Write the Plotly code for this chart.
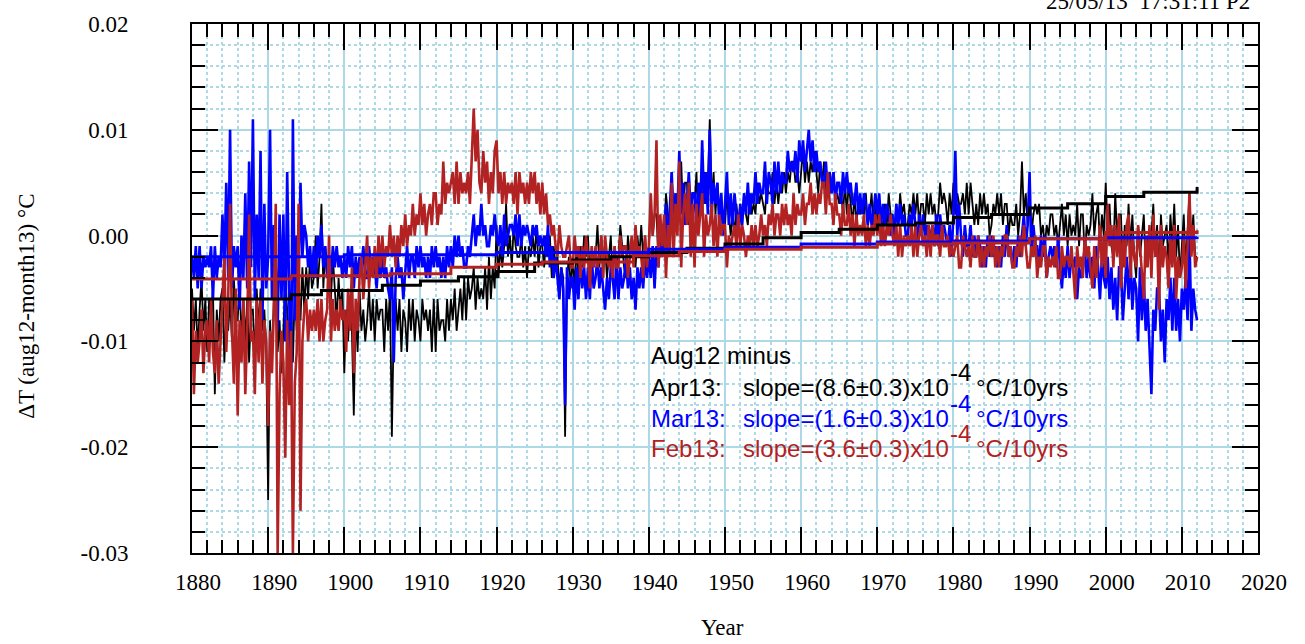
import plotly.graph_objects as go

# ---------------- data (values in units of 1e-3 degC, quarter-year steps from 1880.0) ----------------
START_YEAR = 1880.0
STEP = 0.25

apr13_milli = [
    -5,-9,-6,-11, -7,-4,-9,-6, -11,-6,-8,-5, -15,-7,-10,-6, -5,-12,-7,-9,
    -6,-10,-4,-8, -8,-4,-10,-6, -10,-6,-12,-7, -7,-12,-5,-9, -5,-9,-7,-11,
    -25,-8,-12,-6, -6,-11,-8,-13, -9,-4,-7,-10, -7,-12,-5,-9, -5,-8,-3,-7,
    -3,-6,-2,-5, -4,0,-5,-2, 3,-5,-1,-4, -3,-6,-2,-5, -8,-4,-7,-5,
    -13,-7,-10,-6, -9,-17,-7,-11, -5,-9,-7,-10, -8,-5,-9,-6, -10,-6,-8,-7,
    -7,-11,-6,-9, -5,-19,-8,-6, -9,-6,-11,-7, -8,-11,-6,-9, -6,-10,-7,-8,
    -10,-6,-8,-7, -9,-7,-11,-6, -11,-6,-9,-8, -8,-10,-6,-9, -6,-8,-5,-9,
    -7,-5,-8,-4, -8,-4,-6,-5, -3,-7,-4,-6, -5,-6,-3,-7, -2,-6,-3,-5,
    1,-4,-1,-3, -1,3,-2,0, -3,1,-1,-2, -2,0,-3,-1, -4,-1,-2,0,
    -2,1,-3,-1, -1,-3,0,-2, 0,-4,-1,-3, -2,-5,-3,-4, -19,-4,-2,-5,
    -2,-5,-1,-4, -1,-3,0,-2, 0,-4,-1,-3, -2,1,-3,0, -3,-1,-4,-2,
    0,-4,-1,-3, -2,1,-1,-3, -4,0,-2,-1, -1,-3,0,-2, 1,-2,0,-3,
    -1,3,0,2, 2,-2,1,-1, 0,4,2,1, 6,1,4,2, 3,7,2,5,
    5,1,4,2, 3,6,1,4, 2,6,3,5, 11,3,6,2, 5,2,4,1,
    1,4,2,0, 2,0,3,1, 3,1,4,2, 1,4,2,3, 2,5,3,4,
    3,2,5,4, 4,6,3,5, 3,5,4,6, 4,6,5,7, 7,5,6,4,
    6,8,5,7, 5,7,6,8, 6,4,7,5, 7,3,5,4, 5,6,3,4,
    3,4,2,5, 2,5,3,1, 4,1,3,2, 3,2,4,1, 2,4,1,3,
    1,3,2,0, 3,1,4,2, 2,0,3,1, 4,2,3,1, 1,3,2,4,
    2,4,1,3, 3,1,4,2, 4,2,3,1, 2,5,3,4, 3,1,4,2,
    5,2,4,3, 3,4,2,5, 2,5,3,1, 3,1,4,2, 4,2,3,0,
    1,3,2,4, 2,4,1,3, 3,0,2,1, 1,3,0,2, 7,2,4,1,
    4,0,2,3, 2,3,0,1, -1,1,0,2, 2,0,1,-1, 1,3,0,2,
    -1,2,0,1, 0,3,-1,2, 2,-2,1,0, 1,4,0,2, 3,-1,2,0,
    5,0,3,-1, -2,4,0,2, 2,-3,1,-1, 3,-1,2,-2, -4,1,-2,0,
    2,-3,0,-1, 0,3,-2,1, -4,2,-1,0, 1,-3,2,-1, 3,-2,1,-4,
    -1,2,-3,0, 4,-1,2,-2, -2,
]

mar13_milli = [
    -2,-4,-1,-5, -1,-5,-2,-3, -2,-3,-1,-6, -1,-4,-2,-3, 2,-3,5,-4,
    10,-5,-1,-3, -1,-7,0,-4, 4,-5,7,-3, 11,-6,2,-4, 8,-8,3,-5,
    -2,10,-6,1, -3,-9,2,-6, 2,-10,6,-4, -16,11,-8,0, -4,5,-2,1,
    0,-3,-1,-4, -1,-4,0,-2, 1,-3,-1,-4, -2,-4,-1,-3, -1,-3,-2,-4,
    -2,-4,-1,-3, -1,-5,-2,-4, -2,-3,-1,-4, -4,-1,-3,-2, -3,-5,-2,-4,
    -2,-4,-3,-5, -6,-3,-12,-4, -2,-4,-3,-6, -3,-1,-4,-2, -2,-4,-1,-3,
    -1,-3,-2,-4, -2,-4,-1,-3, -1,-3,-2,-4, -2,-4,-1,-3, -1,-3,0,-2,
    0,-2,-1,-3, -3,-1,-2,0, 2,-1,1,0, 3,0,1,-1, -1,1,0,2,
    0,-1,1,-2, 2,-1,0,1, 1,0,2,-1, 2,-1,1,0, 1,0,-1,1,
    0,1,-1,0, -1,0,-2,1, -3,-1,-4,-2, -4,-6,-3,-5, -16,-3,-6,-4,
    -4,-7,-3,-6, -2,-5,-3,-6, -3,-6,-2,-5, -4,-2,-5,-3, -5,-7,-4,-6,
    -3,-4,-6,-2, -6,-3,-5,-4, -2,-5,-3,-6, -4,-7,-3,-5, -3,-5,-2,-4,
    -2,-4,-1,-5, -1,-3,0,-2, 0,3,-1,2, 6,1,4,2, 8,2,5,1,
    3,6,2,4, 4,1,5,2, 9,3,6,2, 10,2,5,3, 5,1,4,0,
    3,6,1,4, 1,4,2,0, 3,1,4,2, 5,2,4,3, 6,3,5,4,
    4,7,3,6, 5,3,7,4, 7,4,6,5, 5,8,6,7, 6,8,5,9,
    7,9,6,8, 10,7,9,6, 8,6,7,5, 5,7,4,6, 4,6,3,5,
    5,3,6,4, 6,4,5,3, 3,5,2,4, 2,4,3,1, 3,1,2,4,
    2,4,1,3, 1,3,2,0, 2,0,3,1, 3,1,2,0, 0,2,1,3,
    1,-1,2,0, 2,0,1,-1, 0,1,-1,2, -1,2,0,1, 0,-1,1,-2,
    2,8,0,3, 0,-2,1,-1, -1,1,-2,0, -2,0,-1,-3, -1,-3,0,-2,
    0,-2,-1,-3, -1,-3,0,-2, 1,-2,-1,-3, -1,-3,0,-2, 0,2,-1,1,
    6,-2,1,-1, -1,-3,0,-2, 0,-4,-2,-1, -2,-1,-3,0, -3,-5,-2,-4,
    -1,-4,-2,-3, -2,-6,-3,-4, -3,-1,-4,-2, -4,-2,-5,-1, -3,-6,-2,-4,
    -5,-2,-6,-3, -7,-4,-8,-3, -3,-8,-5,-2, -6,-2,-7,-4, -5,-10,-3,-8,
    -4,-9,-6,-11, -15,-7,-9,-5, -5,-10,-7,-12, -6,-8,-4,-9, -4,-9,-6,-10,
    -5,-7,-4,-8, 0,-9,-5,-7, -8,
]

feb13_milli = [
    -6,-15,-9,-12, -10,-7,-13,-9, -8,-12,-6,-11, -13,-8,-14,-10, -7,-2,-11,-6,
    3,-9,-14,-5, -17,-8,-12,-6, -15,-9,2,-10, -9,-15,-6,-12, -6,-14,-8,-10,
    -18,-9,-13,-7, 3,-30,-15,-9, -12,-21,-8,-16, -9,-30,-14,-11, 3,-26,-10,-7,
    -6,-10,-7,-9, -7,-9,-6,-10, -6,-10,-8,-7, 0,-10,-6,-9, -7,-9,-6,-8,
    -7,-11,-5,-9, -3,-13,-6,-9, -4,-2,-6,-3, 0,-5,-2,-4, -1,-4,0,-3,
    0,-3,-1,-2, 1,-2,0,-3, 0,-2,1,-1, 2,-1,1,0, 3,0,2,1,
    4,1,3,0, 2,3,1,4, 4,1,3,2, 7,3,5,4, 5,6,3,7,
    3,6,4,5, 4,6,3,7, 12,7,10,5, 4,8,5,7, 3,6,4,8,
    9,4,6,3, 6,3,5,4, 5,3,6,2, 6,4,5,3, 5,3,6,4,
    6,3,5,2, 5,2,4,1, 2,0,1,-1, -2,1,-1,-2, -2,-1,0,-3,
    -3,0,-2,-1, -4,-1,-3,0, -2,-5,-1,-3, -1,-3,-2,0, -4,0,-2,-3,
    -2,-4,-1,-3, -3,0,-2,-1, -1,-4,-2,0, -3,1,-2,-1, -2,-4,0,-3,
    -1,4,0,2, 9,-3,2,-1, 2,-4,1,-2, 5,-2,3,0, 7,-3,2,4,
    1,5,-2,3, -3,3,0,2, 4,-2,2,0, 1,3,-1,2, -2,2,0,1,
    1,-3,0,-1, 0,1,-1,2, -1,1,0,-2, 0,-1,1,-1, 1,-1,0,2,
    0,1,-1,2, 1,3,0,2, 2,0,3,1, 3,1,2,0, 4,1,3,2,
    2,4,1,3, 3,5,2,4, 2,4,3,5, 5,2,6,3, 3,1,4,2,
    2,0,3,1, 1,3,0,2, -1,2,0,1, 0,2,-1,1, -1,1,0,2,
    0,2,-1,1, -1,1,0,2, 0,-1,1,-2, 1,-2,0,-1, 0,-1,1,-2,
    1,-2,0,1, -1,0,-2,1, -2,1,-1,0, 0,-2,1,-1, -1,0,-2,-1,
    -2,-1,0,-3, -3,0,-1,-2, -1,-3,0,-2, -2,0,-3,-1, -3,-1,-2,0,
    -2,0,-3,-1, -3,-1,-2,0, 0,-2,-1,-3, -3,-1,-2,0, -2,1,-1,-3,
    -3,-1,-2,0, -4,-2,-3,-1, -1,-4,-2,-3, -2,-3,-1,-4, -4,-1,-3,-2,
    -2,-3,-1,-4, -6,-1,-3,-2, -4,0,-2,-1, -3,-5,-1,-4, -2,1,-3,0,
    -4,3,-1,1, -3,1,-2,2, -5,0,-3,1, 2,-4,0,-2, -3,1,-1,-4,
    -6,0,-3,1, -4,2,-2,0, -7,1,-3,-1, -2,-5,0,-3, 1,-6,-2,-4,
    -3,0,-5,-1, 4,-2,1,-3, -2,
]

# running-slope (trend) lines, units of 1e-3 degC
apr13_trend_years = [1880, 1893, 1897, 1905, 1910, 1915, 1920, 1925, 1930, 1935, 1940, 1945,
                     1950, 1955, 1960, 1965, 1970, 1975, 1980, 1985, 1990, 1995, 2000, 2005, 2012]
apr13_trend_milli = [-6.0, -5.6, -5.2, -4.7, -4.3, -3.9, -3.4, -2.6, -2.3, -2.0, -1.6, -1.2,
                     -0.8, -0.2, 0.3, 0.6, 1.0, 1.2, 1.7, 2.0, 2.6, 3.0, 3.7, 4.1, 4.6]
mar13_trend_years = [1880, 1900, 1920, 1930, 1940, 1950, 1960, 1970, 1980, 1990, 2000, 2012]
mar13_trend_milli = [-2.0, -1.8, -1.6, -1.6, -1.3, -1.1, -0.8, -0.6, -0.5, -0.3, -0.2, -0.1]
feb13_trend_years = [1880, 1893, 1906, 1914, 1920, 1926, 1938, 1944, 1950, 1960, 1970, 1980,
                     1990, 2000, 2012]
feb13_trend_milli = [-4.1, -3.8, -3.6, -3.0, -2.7, -2.5, -1.9, -1.5, -1.3, -1.1, -0.8, -0.7,
                     -0.3, 0.3, 0.5]

y_tickvals = [-0.03, -0.02, -0.01, 0.00, 0.01, 0.02]
y_ticktext = ["-0.03", "-0.02", "-0.01", "0.00", "0.01", "0.02"]
x_tickvals = list(range(1880, 2021, 10))

legend_rows = [
    ("Apr13:", "slope=(8.6\u00b10.3)x10", "black"),
    ("Mar13:", "slope=(1.6\u00b10.3)x10", "#0000ff"),
    ("Feb13:", "slope=(3.6\u00b10.3)x10", "#b22222"),
]

BLACK = "black"
BLUE = "#0000ff"
BROWN = "#b22222"
GRID = "#add8e6"

# ---------------- figure ----------------
W, H = 1305, 644
L, R, T, B = 192, 47, 20, 91
PW, PH = W - L - R, H - T - B


def step_x(vals):
    return [START_YEAR + STEP * i for i in range(len(vals))]


fig = go.Figure()
for vals, color, width in [(apr13_milli, BLACK, 1.8), (mar13_milli, BLUE, 2.6), (feb13_milli, BROWN, 2.6)]:
    fig.add_trace(go.Scatter(x=step_x(vals), y=[v * 1e-3 for v in vals], mode="lines",
                             line=dict(color=color, width=width), showlegend=False, hoverinfo="skip"))

for yrs, vals, color in [(apr13_trend_years, apr13_trend_milli, BLACK),
                         (mar13_trend_years, mar13_trend_milli, BLUE),
                         (feb13_trend_years, feb13_trend_milli, BROWN)]:
    fig.add_trace(go.Scatter(x=yrs, y=[v * 1e-3 for v in vals], mode="lines",
                             line=dict(color=color, width=3, shape="hv"), showlegend=False,
                             hoverinfo="skip"))

serif = "Liberation Serif, Times New Roman, serif"
sans = "Liberation Sans, Arial, sans-serif"

fig.update_xaxes(range=[1880, 2020], tickvals=x_tickvals, ticks="inside", ticklen=26, tickwidth=2,
                 tickcolor="black", showline=True, linecolor="black", linewidth=2, mirror="allticks",
                 showgrid=True, gridcolor=GRID, gridwidth=1.5, zeroline=False,
                 minor=dict(dtick=2, ticks="inside", ticklen=13, tickwidth=2, tickcolor="black",
                            showgrid=True, gridcolor=GRID, griddash="dot", gridwidth=1.5),
                 tickfont=dict(family=serif, size=23, color="black"),
                 ticklabelstandoff=7, ticklabelshift=6)
fig.update_yaxes(range=[-0.03, 0.02], tickvals=y_tickvals, ticktext=y_ticktext, ticks="inside",
                 ticklen=26, tickwidth=2, tickcolor="black", showline=True, linecolor="black",
                 linewidth=2, mirror="allticks", showgrid=True, gridcolor=GRID, gridwidth=1.5,
                 zeroline=False,
                 minor=dict(dtick=0.002, ticks="inside", ticklen=13, tickwidth=2, tickcolor="black",
                            showgrid=True, gridcolor=GRID, griddash="dot", gridwidth=1.5),
                 tickfont=dict(family=serif, size=23, color="black"), ticklabelstandoff=57)


def px_x(x):
    return (x - L) / PW


def px_y(y):
    return (T + PH - y) / PH


def data_x(xp):
    return 1880 + (xp - L) / PW * 140


def data_y(yp):
    return 0.02 - (yp - T) / PH * 0.05


annotations = [
    dict(text="Year", x=px_x(722), y=px_y(628), xref="paper", yref="paper", showarrow=False,
         font=dict(family=serif, size=23, color="black"), xanchor="center", yanchor="middle"),
    dict(text="\u0394T (aug12-month13) \u00b0C", x=px_x(27), y=px_y(305), xref="paper", yref="paper",
         showarrow=False, textangle=-90, font=dict(family=serif, size=23, color="black"),
         xanchor="center", yanchor="middle"),
    dict(text="25/05/13  17:31:11 P2", x=px_x(1252), y=px_y(-3), xref="paper", yref="paper",
         showarrow=False, font=dict(family=serif, size=23, color="black"), xanchor="right",
         yanchor="middle"),
    dict(text="Aug12 minus", x=data_x(649), y=data_y(354), xref="x", yref="y", showarrow=False,
         font=dict(family=sans, size=24, color="black"), xanchor="left", yanchor="middle"),
]
row_y = [386, 417, 448]
for (lab, slope, color), yp in zip(legend_rows, row_y):
    f = dict(family=sans, size=24, color=color)
    annotations += [
        dict(text=lab, x=data_x(649), y=data_y(yp), xref="x", yref="y", showarrow=False, font=f,
             xanchor="left", yanchor="middle"),
        dict(text=slope, x=data_x(741), y=data_y(yp), xref="x", yref="y", showarrow=False, font=f,
             xanchor="left", yanchor="middle"),
        dict(text="-4", x=data_x(948), y=data_y(yp - 15), xref="x", yref="y", showarrow=False,
             font=f, xanchor="left", yanchor="middle"),
        dict(text="\u00b0C/10yrs", x=data_x(974), y=data_y(yp), xref="x", yref="y", showarrow=False,
             font=f, xanchor="left", yanchor="middle"),
    ]

fig.update_layout(width=W, height=H, margin=dict(l=L, r=R, t=T, b=B, pad=0),
                  paper_bgcolor="white", plot_bgcolor="white", annotations=annotations,
                  showlegend=False)

fig.write_html("out.html", post_script="document.body.style.margin='0';",
               config={"displayModeBar": False})
